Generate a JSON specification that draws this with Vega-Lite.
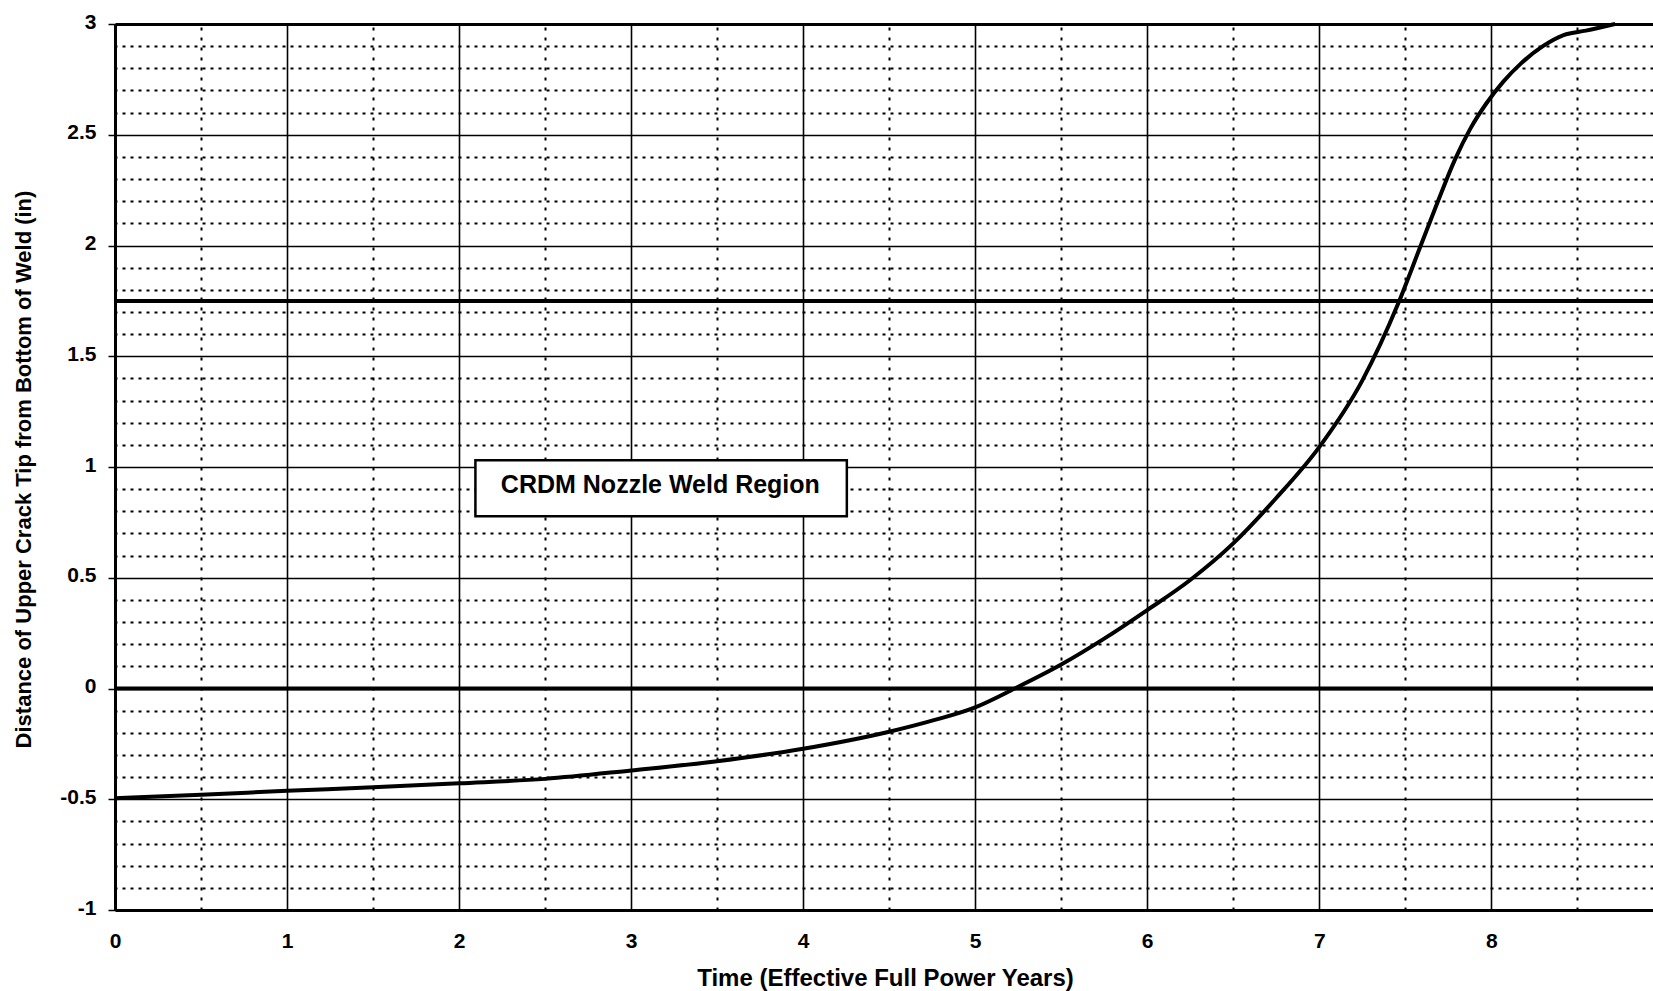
{
  "$schema": "https://vega.github.io/schema/vega-lite/v6.json",
  "width": 1538,
  "height": 886,
  "autosize": "none",
  "padding": {"left": 115, "top": 24, "right": 0, "bottom": 81},
  "background": "white",
  "config": {"view": {"stroke": null}, "font": "Liberation Sans"},
  "datasets": {
    "curve": [
      {"t": 0, "d": -0.495}, {"t": 0.5, "d": -0.48}, {"t": 1, "d": -0.462}, {"t": 1.5, "d": -0.446},
      {"t": 2, "d": -0.428}, {"t": 2.5, "d": -0.408}, {"t": 3, "d": -0.37}, {"t": 3.5, "d": -0.328},
      {"t": 4, "d": -0.272}, {"t": 4.5, "d": -0.195}, {"t": 4.75, "d": -0.145}, {"t": 5, "d": -0.085},
      {"t": 5.23, "d": 0.0}, {"t": 5.5, "d": 0.108}, {"t": 5.75, "d": 0.225}, {"t": 6, "d": 0.354},
      {"t": 6.25, "d": 0.49}, {"t": 6.5, "d": 0.655}, {"t": 6.75, "d": 0.86}, {"t": 7, "d": 1.09},
      {"t": 7.25, "d": 1.39}, {"t": 7.46, "d": 1.74}, {"t": 7.59, "d": 2.0},
      {"t": 7.69, "d": 2.2}, {"t": 7.79, "d": 2.39}, {"t": 7.88, "d": 2.53}, {"t": 7.97, "d": 2.64}, {"t": 8.07, "d": 2.74},
      {"t": 8.17, "d": 2.82}, {"t": 8.3, "d": 2.9}, {"t": 8.42, "d": 2.95}, {"t": 8.55, "d": 2.97},
      {"t": 8.72, "d": 3.0}
    ],
    "levels": [{"level": 0}, {"level": 1.75}],
    "box": [{"label": "CRDM Nozzle Weld Region", "x0": 2.095, "x1": 4.254, "y0": 0.778, "y1": 1.031, "tx": 3.17, "ty": 0.92}]
  },
  "layer": [
    {
      "data": {"name": "box"},
      "mark": {"type": "rect", "fill": "white", "stroke": "black", "strokeWidth": 2.5},
      "encoding": {
        "x": {"field": "x0", "type": "quantitative", "scale": {"domain": [0, 8.94], "nice": false, "zero": false},
          "axis": {"orient": "top", "values": [0.5, 1.5, 2.5, 3.5, 4.5, 5.5, 6.5, 7.5, 8.5], "grid": true, "gridColor": "black", "gridWidth": 2, "gridDash": [3, 7], "gridOpacity": 1, "domain": false, "ticks": false, "labels": false, "title": null}},
        "x2": {"field": "x1"},
        "y": {"field": "y0", "type": "quantitative", "scale": {"domain": [-1, 3], "nice": false, "zero": false},
          "axis": {"orient": "right", "values": [-0.9, -0.8, -0.7, -0.6, -0.4, -0.3, -0.2, -0.1, 0.1, 0.2, 0.3, 0.4, 0.6, 0.7, 0.8, 0.9, 1.1, 1.2, 1.3, 1.4, 1.6, 1.7, 1.8, 1.9, 2.1, 2.2, 2.3, 2.4, 2.6, 2.7, 2.8, 2.9], "grid": true, "gridColor": "black", "gridWidth": 2, "gridDash": [3, 5], "gridOpacity": 1, "domain": false, "ticks": false, "labels": false, "title": null}},
        "y2": {"field": "y1"}
      }
    },
    {
      "data": {"name": "box"},
      "mark": {"type": "text", "fontSize": 25, "fontWeight": "bold", "color": "black", "align": "center", "baseline": "middle"},
      "encoding": {
        "x": {"field": "tx", "type": "quantitative", "axis": null},
        "y": {"field": "ty", "type": "quantitative", "axis": null},
        "text": {"field": "label"}
      }
    },
    {
      "data": {"name": "levels"},
      "mark": {"type": "rule", "color": "black", "strokeWidth": 4},
      "encoding": {
        "y": {"field": "level", "type": "quantitative", "axis": null}
      }
    },
    {
      "data": {"name": "curve"},
      "mark": {"type": "line", "color": "black", "strokeWidth": 4, "interpolate": "monotone"},
      "encoding": {
        "x": {"field": "t", "type": "quantitative", "scale": {"domain": [0, 8.94], "nice": false, "zero": false},
          "axis": {"orient": "bottom", "values": [0, 1, 2, 3, 4, 5, 6, 7, 8], "grid": true, "gridColor": "black", "gridWidth": 1.6, "gridOpacity": 1,
            "domain": true, "domainColor": "black", "domainWidth": 3, "ticks": false, "tickSize": 0,
            "labelFont": "Liberation Sans", "labelFontSize": 21, "labelFontWeight": "bold", "labelColor": "black", "labelPadding": 20, "labelBaseline": "top", "labelFlush": false, "labelAlign": "center",
            "title": "Time (Effective Full Power Years)", "titleFont": "Liberation Sans", "titleFontSize": 24, "titleFontWeight": "bold", "titleColor": "black",
            "titleX": 770, "titleY": 75, "titleAlign": "center", "titleBaseline": "alphabetic", "titleAnchor": null}},
        "y": {"field": "d", "type": "quantitative", "scale": {"domain": [-1, 3], "nice": false, "zero": false},
          "axis": {"orient": "left", "values": [-1, -0.5, 0, 0.5, 1, 1.5, 2, 2.5, 3], "grid": true, "gridColor": "black", "gridOpacity": 1,
            "gridWidth": {"condition": {"test": "datum.value === 3", "value": 3}, "value": 1.6},
            "domain": true, "domainColor": "black", "domainWidth": 3, "ticks": true, "tickSize": 7, "tickWidth": 1.5, "tickColor": "black",
            "labelExpr": "'' + datum.value", "labelFont": "Liberation Sans", "labelFontSize": 21, "labelFontWeight": "bold", "labelColor": "black", "labelPadding": 12, "labelOffset": -2, "labelFlush": false,
            "title": "Distance of Upper Crack Tip from Bottom of Weld (in)", "titleFont": "Liberation Sans", "titleFontSize": 22, "titleFontWeight": "bold", "titleColor": "black",
            "titleAngle": -90, "titleX": -85, "titleY": 445, "titleAlign": "center", "titleBaseline": "alphabetic", "titleAnchor": null}}
      }
    }
  ],
  "resolve": {"axis": {"x": "independent", "y": "independent"}}
}
